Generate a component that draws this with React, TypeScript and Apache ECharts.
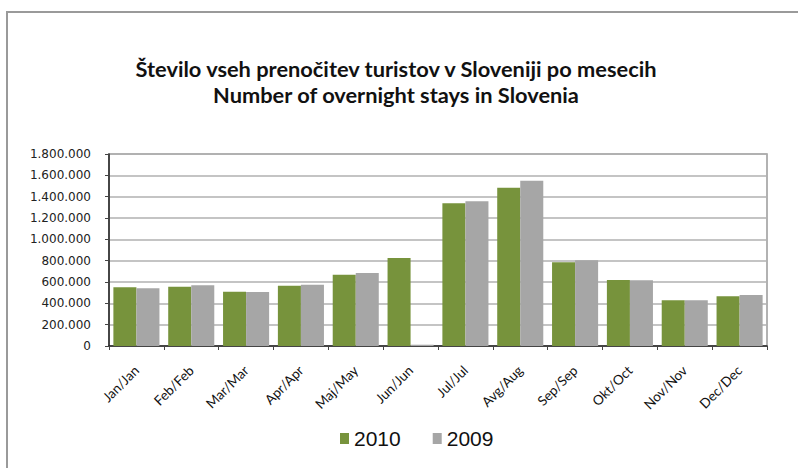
import React, { useEffect, useRef } from "react";
import * as echarts from "echarts";

const categories = ["Jan/Jan", "Feb/Feb", "Mar/Mar", "Apr/Apr", "Maj/May", "Jun/Jun", "Jul/Jul", "Avg/Aug", "Sep/Sep", "Okt/Oct", "Nov/Nov", "Dec/Dec"];
const values2010 = [550000, 556000, 509000, 566000, 669000, 825000, 1338000, 1484000, 785000, 619000, 428000, 466000];
const values2009 = [541000, 569000, 506000, 575000, 684000, 12000, 1357000, 1550000, 803000, 616000, 428000, 478000];
const seriesNames = ["2010", "2009"];
const titleLines = ["Število vseh prenočitev turistov v Sloveniji po mesecih", "Number of overnight stays in Slovenia"];

const fmt = (v: number) => String(v).replace(/\B(?=(\d{3})+(?!\d))/g, ".");

export default function App() {
  const ref = useRef<HTMLDivElement>(null);
  useEffect(() => {
    if (!ref.current) return;
    const chart = echarts.init(ref.current, null, { renderer: "svg" });
    chart.setOption({
      animation: false,
      backgroundColor: "#ffffff",
      title: {
        text: titleLines.join("\n"),
        left: 391,
        top: 50,
        textAlign: "center",
        textStyle: { fontFamily: "Lato", fontWeight: "bold", fontSize: 21.8, lineHeight: 26, color: "#111" },
      },
      legend: {
        data: seriesNames,
        left: 335,
        top: 423,
        itemWidth: 9,
        itemHeight: 11,
        itemGap: 32,
        icon: "rect",
        textStyle: { fontFamily: "Liberation Sans", fontSize: 21, color: "#111" },
      },
      graphic: [
        { type: "polyline", shape: { points: [[7, 468], [7, 12], [798, 12]] }, style: { stroke: "#9a9a9a", lineWidth: 2, fill: "none" } },
      ],
      grid: { left: 109, right: 31, top: 154, bottom: 122, show: true, borderColor: "#999", borderWidth: 1.5 },
      xAxis: {
        type: "category",
        data: categories,
        axisLine: { lineStyle: { color: "#222", width: 1.5 } },
        axisTick: { show: true, length: 4, lineStyle: { color: "#444" } },
        axisLabel: { interval: 0, rotate: 45, margin: 22, fontFamily: "Lato", fontSize: 13.5, color: "#111" },
      },
      yAxis: {
        type: "value",
        min: 0,
        max: 1800000,
        interval: 200000,
        axisLine: { show: true, lineStyle: { color: "#222", width: 1.5 } },
        axisTick: { show: true, length: 4, lineStyle: { color: "#444" } },
        axisLabel: { margin: 18, fontFamily: "DejaVu Sans", fontSize: 12, color: "#222", formatter: (v: number) => fmt(v) },
        splitLine: { lineStyle: { color: "#b0b0b0", width: 1.5 } },
      },
      series: [
        { name: seriesNames[0], type: "bar", data: values2010, itemStyle: { color: "#77933C" }, barGap: "0%", barCategoryGap: "16%" },
        { name: seriesNames[1], type: "bar", data: values2009, itemStyle: { color: "#A6A6A6" }, barGap: "0%", barCategoryGap: "16%" },
      ],
    });
    return () => chart.dispose();
  }, []);
  return <div ref={ref} style={{ position: "fixed", left: 0, top: 0, width: 798, height: 468 }} />;
}
